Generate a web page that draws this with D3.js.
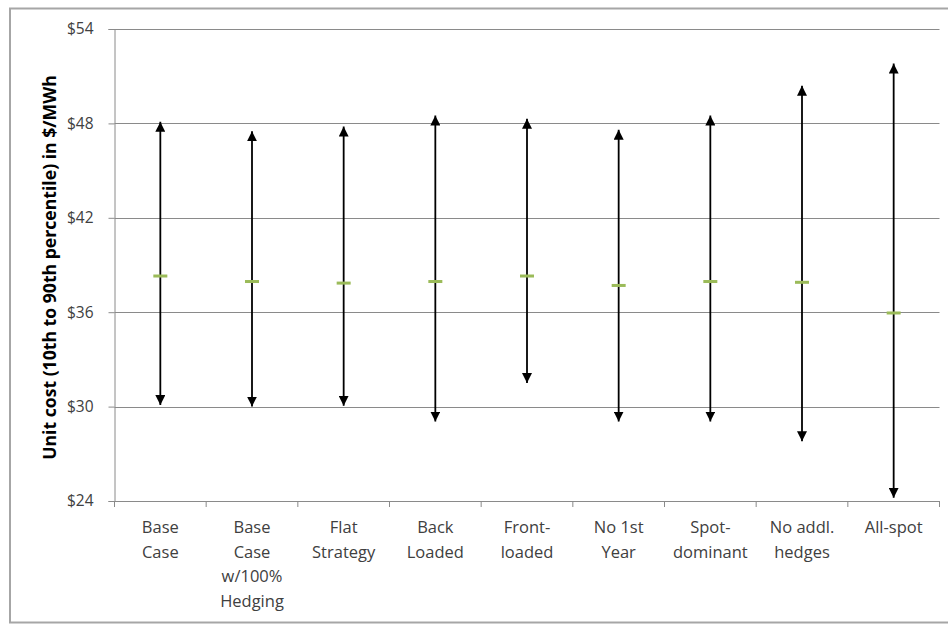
<!DOCTYPE html>
<html><head><meta charset="utf-8">
<script src="https://cdn.jsdelivr.net/npm/d3@7"></script>
<style>
html,body{margin:0;padding:0;background:#fff;}
text{font-family:"Open Sans",Lato,sans-serif;}
</style></head>
<body>
<svg id="chart" width="948" height="625"></svg>
<script>
const categories = [["Base","Case"],["Base","Case","w/100%","Hedging"],["Flat","Strategy"],["Back","Loaded"],["Front-","loaded"],["No 1st","Year"],["Spot-","dominant"],["No addl.","hedges"],["All-spot"]];
const p90 = [48.1, 47.5, 47.8, 48.5, 48.3, 47.6, 48.5, 50.4, 51.8];
const p10 = [30.1, 30.0, 30.05, 29.05, 31.5, 29.05, 29.05, 27.8, 24.2];
const mid = [38.3, 37.95, 37.85, 37.95, 38.3, 37.7, 37.95, 37.9, 35.95];
const yTicks = [24, 30, 36, 42, 48, 54];
const yTitle = "Unit cost (10th to 90th percentile) in $/MWh";

const svg = d3.select("#chart");
const mLeft = 114.5, mRight = 939.5, mTop = 29, mBottom = 501;

svg.append("rect").attr("x",10).attr("y",8.5).attr("width",960).attr("height",614)
  .attr("fill","#fff").attr("stroke","#a6a6a6").attr("stroke-width",2);

const y = d3.scaleLinear().domain([24,54]).range([mBottom, mTop]);
const x = d3.scaleBand().domain(d3.range(categories.length)).range([mLeft, mRight]).padding(0);

// gridlines
svg.append("g").selectAll("line").data(yTicks.filter(t=>t>24)).join("line")
  .attr("x1", mLeft).attr("x2", mRight)
  .attr("y1", d=>Math.round(y(d))+0.5).attr("y2", d=>Math.round(y(d))+0.5)
  .attr("stroke","#8a8a8a").attr("stroke-width",1);

// y axis
const yAxis = svg.append("g").attr("transform",`translate(${mLeft},0)`)
  .call(d3.axisLeft(y).tickValues(yTicks).tickFormat(d=>"$"+d).tickSize(6).tickPadding(15));
yAxis.select(".domain").attr("stroke","#8a8a8a");
yAxis.selectAll(".tick line").attr("stroke","#8a8a8a");
yAxis.selectAll(".tick text").attr("font-size",15.5).attr("fill","#404040").attr("font-family","'Open Sans', sans-serif");

// x axis
const xAxis = svg.append("g").attr("transform",`translate(0,${mBottom})`)
  .call(d3.axisBottom(x).tickSize(0).tickFormat(""));
xAxis.select(".domain").attr("stroke","#8a8a8a");
xAxis.selectAll(".tick").remove();
svg.append("g").selectAll("line").data(d3.range(categories.length+1)).join("line")
  .attr("x1", d=> d<categories.length ? x(d) : mRight).attr("x2", d=> d<categories.length ? x(d) : mRight)
  .attr("y1", mBottom).attr("y2", mBottom+6).attr("stroke","#8a8a8a");

// category labels
const lab = svg.append("g");
categories.forEach((lines,i)=>{
  const t = lab.append("text").attr("text-anchor","middle").attr("font-size",16.5).attr("fill","#404040")
    .attr("x", x(i)+x.bandwidth()/2).attr("y", 533);
  lines.forEach((s,j)=> t.append("tspan").attr("x", x(i)+x.bandwidth()/2).attr("dy", j===0?0:24.5).text(s));
});

// arrows
const defs = svg.append("defs");
defs.append("marker").attr("id","ah").attr("viewBox","0 0 10 10").attr("refX",10).attr("refY",5)
  .attr("markerWidth",10).attr("markerHeight",10).attr("markerUnits","userSpaceOnUse").attr("orient","auto-start-reverse")
  .append("path").attr("d","M0,0 L10,5 L0,10 Z").attr("fill","#000");
const arrows = svg.append("g");
categories.forEach((c,i)=>{
  const cx = x(i)+x.bandwidth()/2;
  arrows.append("line").attr("x1",cx).attr("x2",cx).attr("y1",y(p10[i])).attr("y2",y(p90[i]))
    .attr("stroke","#000").attr("stroke-width",1.8)
    .attr("marker-start","url(#ah)").attr("marker-end","url(#ah)");
});
// medians
svg.append("g").selectAll("rect").data(mid).join("rect")
  .attr("x",(d,i)=>x(i)+x.bandwidth()/2-7).attr("y",d=>y(d)-1.5).attr("width",14).attr("height",3)
  .attr("fill","#9bbb59");

// y title
const tt = svg.append("text").attr("transform",`translate(56,${(75+460)/2}) rotate(-90)`)
  .attr("text-anchor","middle").attr("font-weight","bold").attr("font-size",15).attr("fill","#000")
  .text(yTitle);
const len = tt.node().getComputedTextLength();
tt.attr("font-size", 15*385/len);
</script>
</body></html>
